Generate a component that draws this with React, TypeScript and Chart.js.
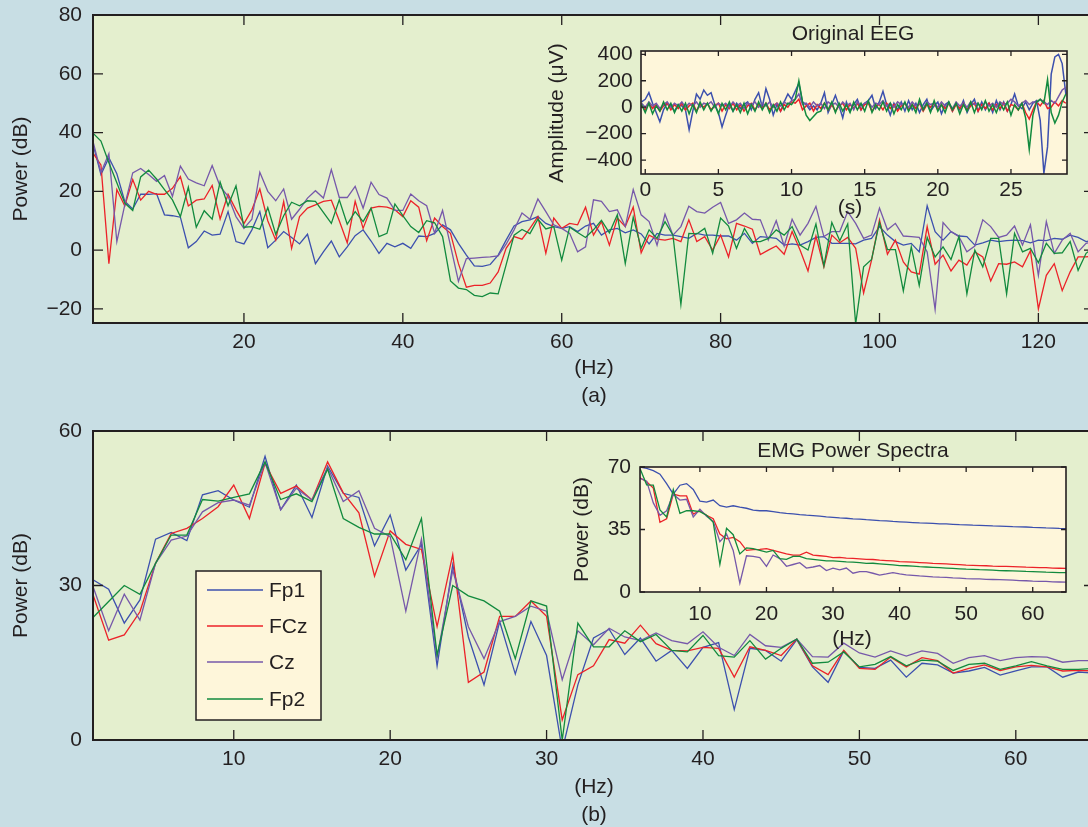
import React, { useEffect, useRef } from "react";
import { Chart, registerables } from "chart.js";
Chart.register(...registerables);

const FONT = '"Liberation Sans", Arial, Helvetica, sans-serif';
const INK = "#231f20";
const PAGE_BG = "#c8dee4";
const PANEL_BG = "#e4efce";
const INSET_BG = "#fef6da";

const channelNames = ["Fp1", "FCz", "Cz", "Fp2"];
const channelColors = ["#3c50ae", "#ec2229", "#7658aa", "#128a3e"];

// ---------- Panel (a): EEG power spectra, 1..128 Hz ----------
const freqA = Array.from({ length: 128 }, (_, i) => i + 1);
const ticksAx = [20, 40, 60, 80, 100, 120];
const ticksAy = [-20, 0, 20, 40, 60, 80];
const fp1A = [36, 25.7, 31.4, 26, 16.6, 14, 19, 19, 19.2, 12,
  11.7, 11.2, 0.8, 2.9, 6.5, 5.1, 5.4, 13.1, 2.9, 2.1,
  6.9, 13.1, 0.8, 3.4, 6.3, 4.3, 2.1, 5.4, -4.6, -0.6,
  3.1, -2.3, 1.1, 4.9, 6.9, 3.1, -1.1, 2.3, 1.1, 2.3,
  0.6, 4.8, 4.6, 5.7, 8.6, 6.9, 2.3, -1.7, -5.4, -5.5,
  -4.9, -1.7, 3.4, 8.2, 9.7, 10.3, 11.4, 9.1, 8, 7.4,
  8, 6.3, 8.2, 9.1, 5.1, 6.9, 7.4, 5.9, 6.9, 5.5,
  2.1, 5.7, 5.1, 5.1, 4.6, 4, 5.7, 5.1, 5.1, 4.8,
  4.8, 3.4, 5.7, 2.3, 4.6, 4.3, 4, 1.7, 2.1, 1.7,
  2.9, 4.3, 4.6, 2.3, 2.3, 2.3, 2.1, 3.4, 4, 8,
  5.1, 2.9, 1.7, 2.3, -0.6, 15.1, 6.3, 3.4, 6.3, 4.8,
  4.6, 1.7, 2.5, 3.4, 2.9, 3.2, 3.4, 3.2, 2.5, 3.4,
  3.2, 4, 3.7, 5.1, 4.3, 2.9, 3.5, 3];
const fczA = [33, 29, -4.6, 20.6, 15, 24, 17, 20, 19, 19,
  21, 25, 15, 17, 17.4, 22, 10.6, 19, 13.7, 9,
  13.7, 20.8, 10, 3.4, 16.5, 0.6, 11.4, 14.3, 15.4, 16.6,
  17, 10, 2.5, 16.6, 7.4, 14.3, 14.9, 14.6, 13.7, 11.4,
  16.8, 14.6, 3.2, 10.9, 8, 5.7, -4.6, -12.6, -12, -12,
  -11.2, -7.4, 0.6, 4.6, 3.7, 7.4, 11.4, -1.1, 10.9, 7.4,
  9.1, 8.6, 14.6, 5.1, 9.7, 1.7, 10.9, 8, 14.6, -0.9,
  5.1, 3.7, 3.4, 4, 2.9, 10.3, 2.9, 4.6, 0, 5.1,
  -2.3, 9.1, 8.2, 7.1, -1.5, 0, 1.4, -1.4, 6.3, 0,
  -7.1, 4.8, -5.7, 5.1, 2.5, 4.3, 0.6, -14.6, -3.4, 10.3,
  -1.4, 3.4, -4, -7.4, -8.2, 8, -4.8, -1.7, -7.1, -3.4,
  -5.1, -0.6, -2.3, -10.5, -4.6, -4.8, -4, -5.7, -0.2, -20,
  -8.6, -4.6, -13.8, -7.4, -2.3, -2.3, -2, -1.5];
const czA = [37, 26.4, 32.8, 2.9, 15.4, 26.3, 27.8, 25.7, 23.4, 25.4,
  18.3, 28.6, 24.2, 22.9, 21.9, 28.8, 21.7, 18.3, 11.4, 7.4,
  10.5, 26.5, 20, 16.8, 20.8, 10.5, 13.9, 17.7, 20.2, 17.7,
  27.4, 17.9, 17.9, 21.7, 14.3, 23.1, 18.9, 17.7, 13.5, 13.5,
  19.1, 16.8, 15.1, 5.8, 13.5, 1.5, -10.6, -2.9, -2.7, -2.5,
  -2.3, -2, 2, 6.9, 12.6, 10.5, 17.4, 13.1, 8.6, 7.4,
  5.7, -0.6, 1.1, 17.1, 16.6, 13.1, 13.7, 8, 20.6, 12,
  9.7, 1.7, 12.2, 5.1, 8, 14.9, 13.1, 12.6, 14.6, 16.2,
  9.1, 10.3, 12.6, 10.5, 10.3, 3.4, 10, 1.4, 10.5, 5.1,
  9.1, 14.9, 4.6, 6.3, 6.3, 13.1, 9.1, 4, 5.1, 14.3,
  6.9, 9.1, 4.8, 4.6, 4.3, -0.6, -20.2, 9.4, 6.3, 4.6,
  -0.6, 1.4, 10.3, 8, 4.3, 5.1, 8.2, 1.7, 8.6, -8.6,
  9.7, -1.1, 3.4, 5.7, -0.6, 2.3, 3, 2];
const fp2A = [39.8, 37.1, 29.7, 22.9, 16, 13.5, 24.9, 27.2, 24.2, 20.6,
  17.1, 11.4, 21.4, 7.8, 13.4, 10.5, 23.2, 15.1, 21.9, 7.8,
  8, 7.1, 14.5, 5.4, 11.7, 16.3, 15.1, 16.8, 16.6, 12.8,
  9.1, 17.1, 8.8, 13.1, 9.7, 14.3, 4.6, 5.7, 15.7, 11.7,
  8, 6, 10, 9.3, 4.6, -10.5, -12.9, -13.4, -15.4, -15.8,
  -14.6, -14.9, -5, 5.1, 7, 5.6, 10.5, 7.2, 8, -3.4,
  7.8, 6, 4.3, 6.9, 10.1, 5.9, 12, -4.6, 11.2, 0.6,
  6.9, 4, 9.7, 5.1, -18.5, 5.7, 5.5, 7.4, -1.1, 10.9,
  8.2, 0.6, 7.4, 2.9, 2.9, 4, 6.9, 5.1, 8, 1.7,
  0, 8.9, -5.4, 9.4, 3.2, 8.9, -25.1, -5.7, -3.2, 9.4,
  0.2, 0.2, -13.9, 1.1, -12, 4.3, -2.3, 1.1, -3.2, 4.6,
  -14.9, 0, -5.7, 4, 4, -14.9, 5.7, -0.6, 0.6, -4.3,
  2.3, -1.1, -0.9, 2.9, -6.9, -1.1, 1, 0];

// ---------- Inset: original EEG (time series) ----------
const eegTime = Array.from({ length: 117 }, (_, i) => -0.25 + 0.25 * i);
const ticksEx = [0, 5, 10, 15, 20, 25];
const ticksEy = [-400, -200, 0, 200, 400];
const fp1E = [40, 60, 110, 30, -40, -110, -20, 30, 10, -30, 20, 10,
  -20, -170, -30, 100, 60, 130, 90, 110, 20, -40, -150, -60,
  20, -30, 30, -10, 20, 40, -20, 60, 110, 0, 140, 60,
  -60, 20, -30, 40, 100, 60, 120, 180, 40, 20, -20, 10,
  -20, 30, 110, -40, 20, 90, 10, -80, 40, -30, 20, 60,
  -20, 30, 50, 90, -10, 40, 120, 20, -60, 30, -20, 40,
  -30, 50, -20, 30, -40, 20, 60, -30, 10, 40, -50, 20,
  40, -30, 30, -20, 50, -40, 20, 60, -30, 40, -20, 30,
  -40, 50, -20, 40, -30, 20, 100, 10, -10, 40, -20, 30,
  50, -100, -500, -300, 250, 380, 400, 330, 100];
const fczE = [10, -20, 30, -10, 20, -30, 10, 30, -20, 20, -10, 30,
  -20, 10, 30, -30, 20, 0, 30, -20, 10, 30, -30, 20,
  -10, 30, -20, 20, -30, 10, 30, -20, 20, -10, 30, -20,
  10, 30, -30, 20, 0, 40, 30, 60, -20, 10, 30, -30,
  20, -10, 30, -20, 20, -30, 10, 30, -20, 20, -10, 30,
  -20, 20, 30, -30, 10, 20, -20, 30, -10, 20, -30, 10,
  30, -20, 20, -10, 30, -30, 20, 0, 30, -20, 20, -10,
  30, -30, 20, -10, 30, -20, 10, 30, -30, 20, -10, 30,
  -20, 20, -10, 30, -30, 20, 10, -20, 30, -40, -90, -20,
  40, 10, 50, -10, 0, 40, 10, 50, 30];
const czE = [30, 0, 40, 10, 30, -10, 20, 40, 0, 30, 10, 40,
  0, 30, 10, 40, 0, 30, 20, 40, 0, 30, 10, 30,
  0, 40, 10, 30, -10, 30, 20, 40, 0, 30, 10, 40,
  0, 30, 10, 40, 20, 50, 60, 100, 20, 30, 0, 40,
  10, 30, -10, 40, 20, 30, 0, 40, 10, 30, -20, 40,
  10, 30, 40, 0, 30, 20, 50, 10, 30, 0, 40, 20,
  30, 0, 40, 10, 30, -10, 40, 20, 30, 0, 40, 10,
  30, -10, 40, 10, 30, 0, 40, 20, 30, -10, 40, 10,
  30, 0, 40, 20, 30, 60, 40, 10, 30, 50, 20, 40,
  30, 60, 40, 20, 50, 30, 80, 130, 150];
const fp2E = [20, -40, 30, -50, 10, -30, 40, -20, 30, -40, 20, -30,
  30, -50, 20, -40, 40, -20, 30, -30, 20, -50, 30, -20,
  40, -30, 20, -40, 30, -50, 20, -30, 40, -20, 30, -40,
  20, -30, 40, -20, 30, 20, 60, 200, 40, -60, -100, -70,
  -40, -30, 30, -20, 40, -40, 30, -30, 20, -40, 40, -20,
  30, -30, 50, -40, 20, -20, 40, -30, 30, -50, 20, -20,
  40, -30, 20, -40, 60, -20, 30, -40, 50, -30, 20, -40,
  40, -20, 30, -50, 20, -30, 40, -40, 30, -20, 50, -30,
  20, -40, 30, -20, 40, -60, 20, -20, 30, -80, -320, -60,
  40, 60, 30, 210, -40, -120, -60, 40, 100];

// ---------- Panel (b): power spectra 1..65 Hz ----------
const freqB = Array.from({ length: 65 }, (_, i) => i + 1);
const ticksBx = [10, 20, 30, 40, 50, 60];
const ticksBy = [0, 30, 60];
const fp1B = [31.1, 29.3, 22.7, 27.2, 39, 40.3, 38.7, 47.6, 48.4, 46.6,
  45.2, 55.1, 44.7, 49.5, 43.2, 53.2, 47.9, 47.1, 37.7, 43.7,
  33, 38, 14.4, 34, 20, 10.7, 23, 12.8, 23, 16.4,
  -2, 10.7, 19.8, 21.5, 16.6, 19.8, 15.3, 17.4, 13.9, 18,
  18.9, 5.9, 17.8, 17.4, 15.3, 19.5, 14.2, 11.2, 17.3, 14.1,
  13.9, 15.5, 12.2, 14.9, 14.6, 13, 13.4, 14.1, 12.6, 13.4,
  14.2, 14.2, 12.2, 13.2, 13];
const fczB = [28.2, 19.4, 20.4, 24.9, 34.3, 40.1, 41.1, 43, 45.3, 49.5,
  43, 53.7, 47.9, 49.3, 46.6, 54, 48, 44.1, 31.8, 40.6,
  38, 37, 22, 36, 11.2, 13.2, 24, 24, 27, 24,
  3.9, 12.7, 14.4, 19.5, 18.8, 22.3, 18.7, 17.4, 17.3, 18,
  17.8, 12.2, 18.1, 17.4, 16.4, 19.6, 14.4, 12.7, 17.4, 13.9,
  13.7, 16.1, 14.2, 16, 15.4, 13, 13.9, 14.6, 13.5, 14.2,
  14.5, 14.2, 13.4, 13.5, 13.4];
const czB = [29.8, 21.2, 28.3, 23.3, 34.3, 38.8, 39.6, 44.3, 46.1, 46.6,
  45.6, 53.9, 44.7, 48.9, 46.6, 52.9, 46.3, 48.4, 41.1, 39.5,
  25, 39, 16, 33, 22, 15.8, 23, 24, 26, 25,
  11.7, 21.2, 18.5, 21.7, 20, 19.3, 20.8, 19.3, 18.7, 21,
  18, 16.4, 20.5, 18.3, 18, 19.6, 16.2, 16.1, 18.8, 16.9,
  16.1, 17.3, 16.3, 17.3, 16.8, 14.9, 16, 16.4, 15.4, 16,
  16.2, 16.1, 15.1, 15.4, 15.4];
const fp2B = [23.8, 26.9, 30, 28.3, 34.3, 39.8, 39.8, 46.7, 46.4, 47.1,
  47.8, 54, 46.7, 47.8, 46.3, 52.6, 43, 41.3, 40, 40,
  35, 43, 16.5, 30, 28, 27, 25, 15.8, 27, 26,
  0, 22.7, 18.1, 18.1, 21.2, 19.1, 20.5, 17.4, 17.1, 20.3,
  16.4, 16.1, 19.3, 15.7, 17.8, 19.6, 14.9, 15.1, 17.1, 14.2,
  14.7, 16.2, 14.4, 15.5, 15.3, 13.5, 14.7, 14.9, 13.7, 14.4,
  15.2, 14.4, 13.7, 13.7, 13.9];

// ---------- Inset: EMG power spectra ----------
const ticksMx = [10, 20, 30, 40, 50, 60];
const ticksMy = [0, 35, 70];
const fp1M = [70, 69.2, 68, 66, 60.7, 54.8, 59.8, 60.7, 57.4, 50.9,
  50.3, 51.5, 48.3, 47.5, 48.3, 47.5, 46.9, 45.9, 45.5, 45.5,
  45, 44.4, 44, 43.7, 43.3, 43, 42.8, 42.5, 42.1, 41.8,
  41.5, 41.3, 41, 40.8, 40.5, 40.3, 40, 39.8, 39.5, 39.3,
  39.1, 38.9, 38.7, 38.6, 38.4, 38.2, 38.1, 37.9, 37.7, 37.6,
  37.4, 37.3, 37.2, 37, 36.9, 36.8, 36.6, 36.5, 36.4, 36.2,
  36.1, 35.9, 35.8, 35.6, 35.5];
const fczM = [64, 61.7, 58.2, 39, 41, 54.8, 53.8, 53.8, 43.6, 45.5,
  43, 41, 32.5, 29.8, 30.6, 28.2, 23.3, 23.7, 23.9, 24.3,
  23.3, 22.3, 21.3, 20.7, 20.7, 22.3, 20.7, 20.3, 19.9, 19.3,
  19.4, 19, 18.8, 18.6, 18.3, 18.2, 17.8, 17.6, 17.4, 17,
  16.9, 16.7, 16.5, 16.3, 16, 15.9, 15.7, 15.5, 15.3, 15,
  14.9, 14.8, 14.7, 14.5, 14.4, 14.3, 14.2, 14.1, 13.9, 13.8,
  13.7, 13.6, 13.4, 13.3, 13.2];
const czM = [63.7, 62.1, 49.9, 43, 45.5, 54.8, 51.5, 51.9, 42, 46.3,
  42.4, 39.6, 28.2, 32.5, 23.3, 4.9, 20.3, 19.9, 19.3, 14.4,
  20.7, 18.7, 14.4, 15.4, 16.4, 13.4, 14, 14.8, 12, 13.4,
  12.4, 13.4, 10.5, 11.4, 11.4, 10.5, 9.5, 10.1, 10.8, 10.1,
  9.6, 9.3, 9, 8.8, 8.5, 8.3, 8.2, 7.9, 7.8, 7.5,
  7.4, 7.3, 7.1, 7, 6.9, 6.8, 6.6, 6.4, 6.3, 6.1,
  6, 5.9, 5.7, 5.6, 5.5];
const fp2M = [69.2, 60, 59.8, 46, 42, 57.4, 44, 45.5, 45.5, 45,
  43, 39, 15.4, 35.7, 32.1, 21.3, 24.7, 24.3, 23.3, 22.3,
  23.3, 18.7, 18.3, 19.9, 19.9, 18.7, 18.3, 17.9, 17.4, 17.4,
  17.2, 16.9, 16.7, 16.5, 16, 16.1, 15.8, 15.5, 15.2, 14.8,
  14.7, 14.5, 14.2, 14, 13.8, 13.6, 13.4, 13.2, 13, 12.8,
  12.7, 12.5, 12.4, 12.2, 12, 11.9, 11.8, 11.7, 11.5, 11.4,
  11.3, 11.1, 11, 10.9, 10.8];

type TextItem = { t: string; x: number; y: number; rot?: boolean; size?: number };
type Spec = {
  left: number; top: number; width: number; height: number;
  area: { left: number; top: number; right: number; bottom: number };
  xMin: number; xMax: number; yMin: number; yMax: number;
  xTicks: number[]; yTicks: number[];
  x: number[]; series: number[][];
  lineWidth: number; tickLen: number; frameWidth: number; fill: string;
  fontSize: number; xPad: number; yPad: number;
  texts: TextItem[];
  legend?: { x: number; y: number; w: number; h: number; rows: number[]; lx1: number; lx2: number; tx: number };
};

const fmt = (v: number) => (v < 0 ? "\u2212" + Math.abs(v) : String(v));

function makeChart(canvas: HTMLCanvasElement, s: Spec) {
  const order = [3, 2, 1, 0]; // Fp2 drawn on top
  const datasets = order.map((k) => ({
    label: channelNames[k],
    data: s.series[k].map((v, i) => ({ x: s.x[i], y: v })),
    borderColor: channelColors[k],
    borderWidth: s.lineWidth,
    pointRadius: 0,
    tension: 0,
    fill: false,
  }));
  const decor = {
    id: "decor",
    beforeDraw(chart: any) {
      const { ctx, chartArea: a } = chart;
      ctx.save();
      ctx.fillStyle = s.fill;
      ctx.fillRect(a.left, a.top, a.right - a.left, a.bottom - a.top);
      ctx.restore();
    },
    afterDraw(chart: any) {
      const { ctx, chartArea: a } = chart;
      const xs = chart.scales.x;
      const ys = chart.scales.y;
      ctx.save();
      ctx.strokeStyle = INK;
      ctx.lineWidth = 1.3;
      ctx.beginPath();
      s.xTicks.forEach((v) => {
        const p = xs.getPixelForValue(v);
        ctx.moveTo(p, a.bottom); ctx.lineTo(p, a.bottom - s.tickLen);
        ctx.moveTo(p, a.top); ctx.lineTo(p, a.top + s.tickLen);
      });
      s.yTicks.forEach((v) => {
        const p = ys.getPixelForValue(v);
        ctx.moveTo(a.left, p); ctx.lineTo(a.left + s.tickLen, p);
        ctx.moveTo(a.right, p); ctx.lineTo(a.right - s.tickLen, p);
      });
      ctx.stroke();
      ctx.lineWidth = s.frameWidth;
      ctx.strokeRect(a.left, a.top, a.right - a.left, a.bottom - a.top);
      if (s.legend) {
        const L = s.legend;
        ctx.fillStyle = INSET_BG;
        ctx.fillRect(L.x, L.y, L.w, L.h);
        ctx.lineWidth = 1.5;
        ctx.strokeStyle = INK;
        ctx.strokeRect(L.x, L.y, L.w, L.h);
        ctx.font = `${s.fontSize}px ${FONT}`;
        ctx.textAlign = "left";
        ctx.textBaseline = "middle";
        L.rows.forEach((ry, k) => {
          ctx.strokeStyle = channelColors[k];
          ctx.lineWidth = 1.3;
          ctx.beginPath();
          ctx.moveTo(L.lx1, ry); ctx.lineTo(L.lx2, ry);
          ctx.stroke();
          ctx.fillStyle = INK;
          ctx.fillText(channelNames[k], L.tx, ry + 1);
        });
      }
      ctx.fillStyle = INK;
      ctx.textAlign = "center";
      ctx.textBaseline = "middle";
      s.texts.forEach((t) => {
        ctx.font = `${t.size || s.fontSize}px ${FONT}`;
        if (t.rot) {
          ctx.save();
          ctx.translate(t.x, t.y);
          ctx.rotate(-Math.PI / 2);
          ctx.fillText(t.t, 0, 0);
          ctx.restore();
        } else {
          ctx.fillText(t.t, t.x, t.y);
        }
      });
      ctx.restore();
    },
  };
  const tickFont = { family: FONT, size: s.fontSize };
  return new Chart(canvas, {
    type: "line",
    data: { datasets },
    options: {
      animation: false,
      responsive: false,
      maintainAspectRatio: false,
      events: [],
      layout: { padding: { left: 0, top: s.area.top, right: s.width - s.area.right, bottom: 0 } },
      plugins: { legend: { display: false }, tooltip: { enabled: false }, title: { display: false } },
      scales: {
        x: {
          type: "linear",
          min: s.xMin,
          max: s.xMax,
          grid: { display: false, drawTicks: false },
          border: { display: false },
          ticks: { font: tickFont, color: INK, padding: s.xPad, maxRotation: 0, autoSkip: false, callback: (v: any) => fmt(Number(v)) },
          afterBuildTicks: (sc: any) => { sc.ticks = s.xTicks.map((v) => ({ value: v })); },
          afterFit: (sc: any) => { sc.height = s.height - s.area.bottom; sc.paddingLeft = 0; sc.paddingRight = 0; },
        },
        y: {
          type: "linear",
          min: s.yMin,
          max: s.yMax,
          grid: { display: false, drawTicks: false },
          border: { display: false },
          ticks: { font: tickFont, color: INK, padding: s.yPad, autoSkip: false, callback: (v: any) => fmt(Number(v)) },
          afterBuildTicks: (sc: any) => { sc.ticks = s.yTicks.map((v) => ({ value: v })); },
          afterFit: (sc: any) => { sc.width = s.area.left; sc.paddingTop = 0; sc.paddingBottom = 0; },
        },
      },
    } as any,
    plugins: [decor as any],
  });
}

function ChartBox({ spec }: { spec: Spec }) {
  const ref = useRef<HTMLCanvasElement>(null);
  useEffect(() => {
    const chart = makeChart(ref.current as HTMLCanvasElement, spec);
    return () => chart.destroy();
  }, []);
  return (
    <canvas
      ref={ref}
      width={spec.width}
      height={spec.height}
      style={{ position: "absolute", left: spec.left, top: spec.top, width: spec.width, height: spec.height }}
    />
  );
}

const specA: Spec = {
  left: 0, top: 0, width: 1200, height: 415,
  area: { left: 93, top: 15, right: 1094, bottom: 323 },
  xMin: 1, xMax: 127, yMin: -24.8, yMax: 80, xTicks: ticksAx, yTicks: ticksAy,
  x: freqA, series: [fp1A, fczA, czA, fp2A],
  lineWidth: 1.3, tickLen: 10, frameWidth: 2, fill: PANEL_BG, fontSize: 21, xPad: 7, yPad: 11,
  texts: [
    { t: "Power (dB)", x: 21, y: 169, rot: true },
    { t: "(Hz)", x: 594, y: 368 },
    { t: "(a)", x: 594, y: 396 },
  ],
};

const specB: Spec = {
  left: 0, top: 415, width: 1200, height: 412,
  area: { left: 93, top: 16, right: 1094, bottom: 325 },
  xMin: 1, xMax: 65, yMin: 0, yMax: 60, xTicks: ticksBx, yTicks: ticksBy,
  x: freqB, series: [fp1B, fczB, czB, fp2B],
  lineWidth: 1.3, tickLen: 10, frameWidth: 2, fill: PANEL_BG, fontSize: 21, xPad: 7, yPad: 11,
  texts: [
    { t: "Power (dB)", x: 21, y: 170.5, rot: true },
    { t: "(Hz)", x: 594, y: 372 },
    { t: "(b)", x: 594, y: 400 },
  ],
  legend: { x: 196, y: 156, w: 125, h: 149, rows: [175, 211, 247, 284], lx1: 207, lx2: 263, tx: 269 },
};

const specEEG: Spec = {
  left: 540, top: 18, width: 548, height: 205,
  area: { left: 101, top: 33, right: 527, bottom: 156 },
  xMin: -0.29, xMax: 28.83, yMin: -505, yMax: 425, xTicks: ticksEx, yTicks: ticksEy,
  x: eegTime, series: [fp1E, fczE, czE, fp2E],
  lineWidth: 1.5, tickLen: 5, frameWidth: 1.6, fill: INSET_BG, fontSize: 21, xPad: 3.5, yPad: 8.4,
  texts: [
    { t: "Original EEG", x: 313, y: 16.7 },
    { t: "(s)", x: 310, y: 190.7 },
    { t: "Amplitude (\u03bcV)", x: 17.5, y: 95, rot: true },
  ],
};

const specEMG: Spec = {
  left: 540, top: 428, width: 548, height: 222,
  area: { left: 100, top: 39, right: 526, bottom: 164 },
  xMin: 1, xMax: 65, yMin: 0, yMax: 70, xTicks: ticksMx, yTicks: ticksMy,
  x: freqB, series: [fp1M, fczM, czM, fp2M],
  lineWidth: 1.3, tickLen: 5, frameWidth: 1.6, fill: INSET_BG, fontSize: 21, xPad: 10, yPad: 9,
  texts: [
    { t: "EMG Power Spectra", x: 313, y: 23.7 },
    { t: "(Hz)", x: 312, y: 211.7 },
    { t: "Power (dB)", x: 42, y: 101.5, rot: true },
  ],
};

export default function App() {
  return (
    <div
      style={{
        position: "fixed", left: 0, top: 0, width: 1088, height: 827,
        overflow: "hidden", background: PAGE_BG,
      }}
    >
      <ChartBox spec={specA} />
      <ChartBox spec={specB} />
      <ChartBox spec={specEEG} />
      <ChartBox spec={specEMG} />
    </div>
  );
}
